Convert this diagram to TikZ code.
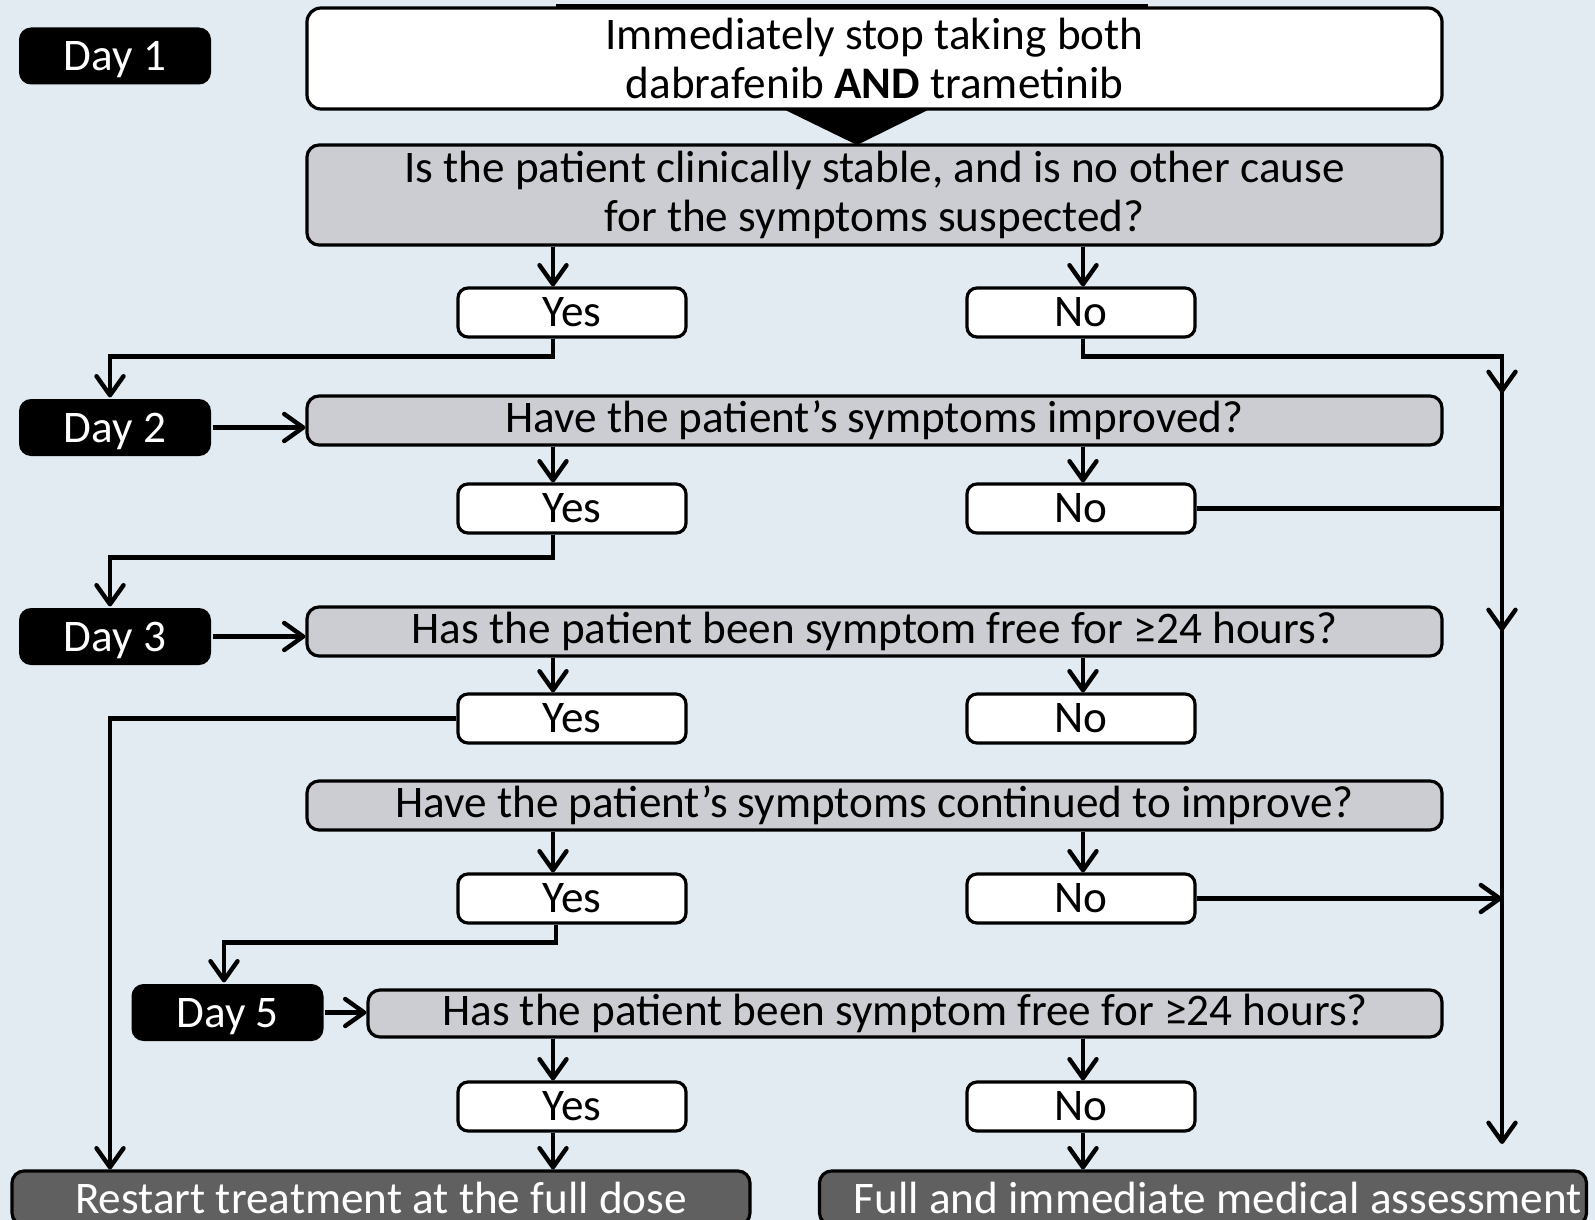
\documentclass[tikz,border=0pt]{standalone}
\usepackage{fontspec}
\setmainfont{Carlito}
\usetikzlibrary{arrows.meta}
\definecolor{bgc}{RGB}{226,234,242}
\definecolor{qgray}{RGB}{204,205,210}
\definecolor{dgray}{RGB}{96,96,96}
\tikzset{
  base/.style={draw=black, line width=1.6pt, inner sep=0pt, align=center,
    font=\fontsize{22.6pt}{24.5pt}\selectfont},
  whitebox/.style={base, fill=white, rounded corners=7pt},
  qbox/.style={base, fill=qgray, rounded corners=6pt},
  ynbox/.style={base, fill=white, rounded corners=5pt, minimum width=114pt, minimum height=24.5pt},
  daybox/.style={base, draw=none, fill=black, text=white, rounded corners=6pt,
    minimum width=96pt, minimum height=28.5pt, text depth=0pt},
  endbox/.style={base, fill=dgray, text=white, rounded corners=6pt, minimum height=27pt},
  line/.style={line width=2.2pt},
  conn/.style={line width=2.2pt, -{Straight Barb[length=9.5pt,width=13.5pt,line width=2.2pt,round]}},
}
\begin{document}
\begin{tikzpicture}[x=0.5pt,y=-0.5pt]
\useasboundingbox (0,0) rectangle (1595,1220);
\fill[bgc] (0,0) rectangle (1595,1220);

% helper x positions
\coordinate (L) at (553,0);
\coordinate (L2) at (556,0);
\coordinate (R) at (1083,0);
\coordinate (W) at (110,0);
\coordinate (W5) at (224,0);
\coordinate (E) at (1502,0);
\coordinate (Eend) at (1502,1144);

% top fragment line and pointer triangle
\fill[black] (556,4) rectangle (1148,9);
\fill[black] (775,105) -- (938,105) -- (857,145) -- cycle;

% question boxes
\node[whitebox, minimum width=567.5pt, minimum height=50.5pt] (q1) at (874.5,58.5)
  {Immediately stop taking both\\dabrafenib \textbf{AND} trametinib};
\node[qbox, minimum width=567.5pt, minimum height=50pt] (q2) at (874.5,195)
  {Is the patient clinically stable, and is no other cause\\for the symptoms suspected?};
\node[qbox, minimum width=567.5pt, minimum height=24.5pt] (q3) at (874.5,420.5)
  {Have the patient’s symptoms improved?};
\node[qbox, minimum width=567.5pt, minimum height=24.5pt] (q4) at (874.5,631.5)
  {Has the patient been symptom free for ≥24 hours?};
\node[qbox, minimum width=567.5pt, minimum height=24.5pt] (q5) at (874.5,805.5)
  {Have the patient’s symptoms continued to improve?};
\node[qbox, minimum width=537pt, minimum height=23.5pt] (q6) at (905,1013.5)
  {Has the patient been symptom free for ≥24 hours?};

% yes / no boxes
\node[ynbox] (y1) at (572,312.5) {Yes};
\node[ynbox] (n1) at (1081,312.5) {No};
\node[ynbox] (y2) at (572,508.5) {Yes};
\node[ynbox] (n2) at (1081,508.5) {No};
\node[ynbox] (y3) at (572,718.5) {Yes};
\node[ynbox] (n3) at (1081,718.5) {No};
\node[ynbox] (y4) at (572,898.5) {Yes};
\node[ynbox] (n4) at (1081,898.5) {No};
\node[ynbox] (y5) at (572,1106.5) {Yes};
\node[ynbox] (n5) at (1081,1106.5) {No};

% day labels
\node[daybox] (d1) at (115,56) {Day 1};
\node[daybox] (d2) at (115,427.5) {Day 2};
\node[daybox] (d3) at (115,636.5) {Day 3};
\node[daybox] (d5) at (227.5,1012.5) {Day 5};

% outcome boxes
\node[endbox, minimum width=369pt] (rs) at (381,1198) {Restart treatment at the full dose};
\node[endbox, minimum width=383.5pt] (md) at (1203,1198) {\hspace*{15pt}Full and immediate medical assessment};

% connectors
\draw[conn] (q2.south -| L) -- (L |- y1.north);
\draw[conn] (q2.south -| R) -- (R |- n1.north);
\draw[conn] (y1.south -| L) -- ++(0,18) -| (W |- d2.north);
\draw[conn] (n1.south -| R) -- ++(0,18) -| (Eend);
\draw[conn] (1502,355) -- (1502,393);
\draw[conn] (1502,590) -- (1502,631);

\draw[conn] (d2.east) -- (q3.west |- d2.east);
\draw[conn] (q3.south -| L) -- (L |- y2.north);
\draw[conn] (q3.south -| R) -- (R |- n2.north);
\draw[conn] (y2.south -| L) -- ++(0,23) -| (W |- d3.north);
\draw[line] (n2.east) -- (E |- n2.east);

\draw[conn] (d3.east) -- (q4.west |- d3.east);
\draw[conn] (q4.south -| L) -- (L |- y3.north);
\draw[conn] (q4.south -| R) -- (R |- n3.north);
\draw[conn] (y3.west) -| (W |- rs.north);

\draw[conn] (q5.south -| L) -- (L |- y4.north);
\draw[conn] (q5.south -| R) -- (R |- n4.north);
\draw[conn] (n4.east) -- (E |- n4.east);
\draw[conn] (y4.south -| L2) -- ++(0,18) -| (W5 |- d5.north);

\draw[conn] (d5.east) -- (q6.west |- d5.east);
\draw[conn] (q6.south -| L) -- (L |- y5.north);
\draw[conn] (q6.south -| R) -- (R |- n5.north);
\draw[conn] (y5.south -| L) -- (L |- rs.north);
\draw[conn] (n5.south -| R) -- (R |- md.north);
\end{tikzpicture}
\end{document}
